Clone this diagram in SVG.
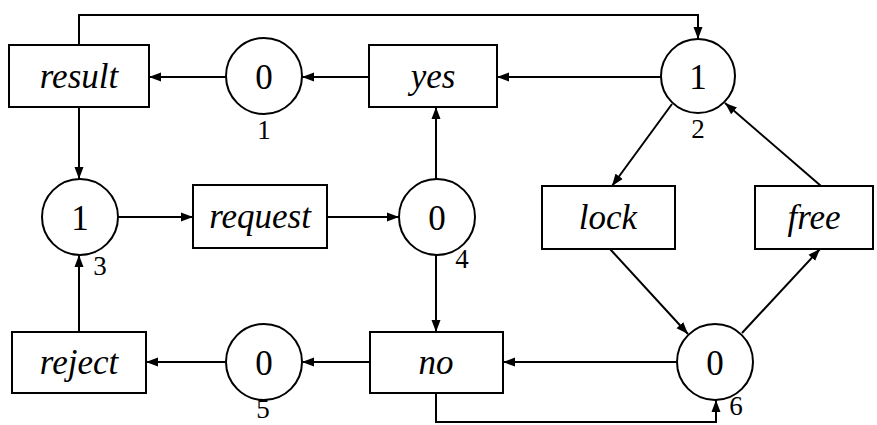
<svg xmlns="http://www.w3.org/2000/svg" width="877" height="425" viewBox="0 0 877 425">
  <style>
    .box { fill: #fff; stroke: #000; stroke-width: 2; }
    .place { fill: #fff; stroke: #000; stroke-width: 2; }
    text { font-family: 'Liberation Serif', 'Times New Roman', Tinos, 'DejaVu Serif', serif; text-anchor: middle; fill: #000; }
    .name { font-style: italic; font-size: 35px; }
    .tok { font-size: 35px; }
    .num { font-size: 27px; }
    .arc { fill: none; stroke: #000; stroke-width: 2; }
  </style>
  <defs>
    <marker id="arrow" markerWidth="13" markerHeight="10" refX="12" refY="5" orient="auto" markerUnits="userSpaceOnUse">
      <path d="M0,0.5 L12,5 L0,9.5 Z" fill="#000"/>
    </marker>
  </defs>

  <rect width="877" height="425" fill="#fff"/>

  <g id="connectors">
    <polyline class="arc" points="79,45 79,15 698,15 698,39" marker-end="url(#arrow)"/>
    <line class="arc" x1="661" y1="77" x2="497" y2="77" marker-end="url(#arrow)"/>
    <line class="arc" x1="369" y1="77" x2="302" y2="77" marker-end="url(#arrow)"/>
    <line class="arc" x1="226" y1="77" x2="149" y2="77" marker-end="url(#arrow)"/>
    <line class="arc" x1="79" y1="107" x2="79" y2="179" marker-end="url(#arrow)"/>
    <line class="arc" x1="118" y1="217" x2="193" y2="217" marker-end="url(#arrow)"/>
    <line class="arc" x1="327" y1="217" x2="399" y2="217" marker-end="url(#arrow)"/>
    <line class="arc" x1="436" y1="179" x2="436" y2="107" marker-end="url(#arrow)"/>
    <line class="arc" x1="436" y1="255" x2="436" y2="332" marker-end="url(#arrow)"/>
    <line class="arc" x1="672" y1="104" x2="612" y2="186" marker-end="url(#arrow)"/>
    <line class="arc" x1="821" y1="186" x2="725" y2="103" marker-end="url(#arrow)"/>
    <line class="arc" x1="610" y1="249" x2="688" y2="334" marker-end="url(#arrow)"/>
    <line class="arc" x1="742" y1="333" x2="820" y2="249" marker-end="url(#arrow)"/>
    <line class="arc" x1="677" y1="362" x2="503" y2="362" marker-end="url(#arrow)"/>
    <line class="arc" x1="370" y1="362" x2="302" y2="362" marker-end="url(#arrow)"/>
    <line class="arc" x1="226" y1="362" x2="146" y2="362" marker-end="url(#arrow)"/>
    <line class="arc" x1="79" y1="332" x2="79" y2="255" marker-end="url(#arrow)"/>
    <polyline class="arc" points="436,393 436,422 716,422 716,400" marker-end="url(#arrow)"/>
  </g>

  <g id="result">
    <rect class="box" x="9" y="45" width="140" height="62"/>
    <text class="name" x="79" y="88">result</text>
  </g>
  <g id="yes">
    <rect class="box" x="369" y="45" width="128" height="62"/>
    <text class="name" x="433" y="88">yes</text>
  </g>
  <g id="request">
    <rect class="box" x="193" y="185" width="134" height="63"/>
    <text class="name" x="260" y="228">request</text>
  </g>
  <g id="lock">
    <rect class="box" x="542" y="186" width="133" height="63"/>
    <text class="name" x="608" y="229">lock</text>
  </g>
  <g id="free">
    <rect class="box" x="755" y="186" width="118" height="63"/>
    <text class="name" x="814" y="229">free</text>
  </g>
  <g id="reject">
    <rect class="box" x="12" y="332" width="134" height="61"/>
    <text class="name" x="79" y="374">reject</text>
  </g>
  <g id="no">
    <rect class="box" x="370" y="332" width="133" height="61"/>
    <text class="name" x="436" y="374">no</text>
  </g>

  <g id="p1">
    <circle class="place" cx="264" cy="76" r="38"/>
    <text class="tok" x="264" y="89">0</text>
    <text class="num" x="264" y="139">1</text>
  </g>
  <g id="p2">
    <circle class="place" cx="698" cy="76" r="37"/>
    <text class="tok" x="698" y="89">1</text>
    <text class="num" x="698" y="138">2</text>
  </g>
  <g id="p3">
    <circle class="place" cx="80" cy="217" r="38"/>
    <text class="tok" x="80" y="230">1</text>
    <text class="num" x="100" y="275">3</text>
  </g>
  <g id="p4">
    <circle class="place" cx="437" cy="217" r="38"/>
    <text class="tok" x="437" y="230">0</text>
    <text class="num" x="462" y="268">4</text>
  </g>
  <g id="p5">
    <circle class="place" cx="264" cy="362" r="38"/>
    <text class="tok" x="264" y="375">0</text>
    <text class="num" x="263" y="418">5</text>
  </g>
  <g id="p6">
    <circle class="place" cx="715" cy="362" r="38"/>
    <text class="tok" x="715" y="375">0</text>
    <text class="num" x="736" y="415">6</text>
  </g>
</svg>
